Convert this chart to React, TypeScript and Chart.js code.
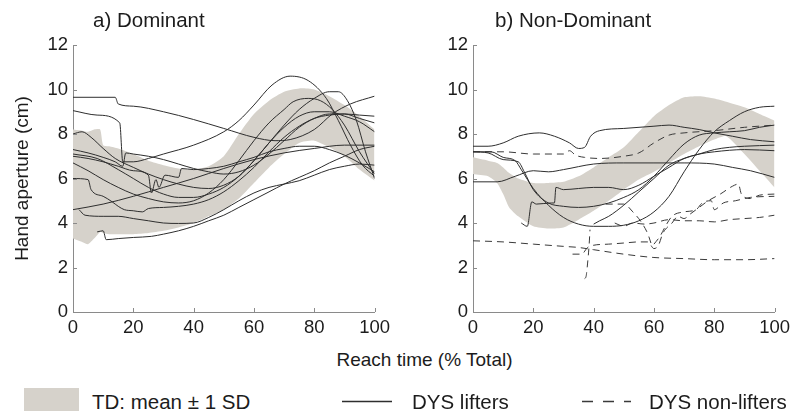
import React, { useEffect, useRef } from "react";
import { Chart, registerables } from "chart.js";

Chart.register(...registerables);

type Pt = [number, number];

// ---- axes ----
const X_MIN = 0;
const X_MAX = 100;
const X_STEP = 20;
const Y_MIN = 0;
const Y_MAX = 12;
const Y_STEP = 2;

const PANEL_TITLES = ["a) Dominant", "b) Non-Dominant"];
const Y_TITLE = "Hand aperture (cm)";
const X_TITLE = "Reach time (% Total)";
const LEGEND_LABELS = ["TD: mean \u00b1 1 SD", "DYS lifters", "DYS non-lifters"];

// ---- a) Dominant : TD band ----
const DOM_BAND_X = [0, 3, 5, 7, 9, 10, 12, 15, 20, 25, 30, 35, 40, 45, 50, 55, 60, 65, 70, 75, 80, 85, 90, 95, 100];
const DOM_BAND_UPPER = [8.2, 8.15, 8.1, 8.2, 8.2, 7.5, 7.45, 7.35, 7.1, 6.8, 6.6, 6.45, 6.4, 6.55, 7.0, 8.0, 8.9, 9.5, 9.9, 10.05, 10.0, 9.7, 9.3, 8.8, 8.2];
const DOM_BAND_LOWER = [3.3, 3.15, 3.05, 3.3, 3.6, 3.55, 3.5, 3.5, 3.5, 3.55, 3.65, 3.8, 4.0, 4.3, 4.6, 5.1, 5.8, 6.5, 7.1, 7.6, 7.7, 7.4, 7.0, 6.4, 5.9];

// ---- a) Dominant : DYS lifters ----
const DOM_L1: Pt[] = [[0, 9.65], [14, 9.65], [15, 9.35], [20, 9.25], [30, 9.0], [40, 8.65], [50, 8.25], [60, 7.85], [67, 7.7], [72, 7.75], [80, 8.2], [86, 8.9], [92, 9.35], [100, 9.7]];
const DOM_L2: Pt[] = [[0, 9.05], [8, 8.85], [15.5, 8.5], [16.5, 6.75], [20, 6.75], [25, 6.9], [30, 7.1], [40, 7.5], [50, 8.1], [55, 8.6], [60, 9.3], [66, 10.2], [72, 10.6], [78, 10.4], [84, 9.6], [88, 8.6], [92, 7.5], [96, 6.6], [100, 6.1]];
const DOM_L3: Pt[] = [[0, 8.0], [3, 8.1], [6, 7.85], [10, 7.35], [14, 6.9], [20, 6.5], [25, 6.2], [30, 5.95], [35, 5.75], [40, 5.6], [45, 5.55], [50, 5.7], [55, 6.1], [60, 6.8], [65, 7.6], [70, 8.4], [75, 9.1], [80, 9.6], [85, 9.9], [88, 9.9], [91, 9.5], [94, 8.6], [97, 7.2], [100, 6.0]];
const DOM_L4: Pt[] = [[0, 7.3], [5, 7.15], [10, 6.95], [14, 6.75], [16.5, 6.55], [17.5, 7.15], [20, 7.1], [25, 7.0], [30, 6.85], [35, 6.65], [40, 6.45], [45, 6.3], [50, 6.2], [55, 6.3], [60, 6.6], [65, 7.1], [70, 7.7], [75, 8.3], [80, 8.7], [85, 8.9], [90, 8.9], [95, 8.7], [100, 8.5]];
const DOM_L5: Pt[] = [[0, 7.0], [5, 6.9], [10, 6.75], [15, 6.55], [20, 6.35], [25, 6.15], [26, 5.35], [27.5, 5.95], [28.5, 5.6], [30.5, 6.15], [35, 6.05], [36, 6.45], [40, 6.4], [45, 6.45], [50, 6.55], [55, 6.75], [60, 6.95], [65, 7.2], [70, 7.35], [75, 7.45], [80, 7.45], [85, 7.3], [90, 7.05], [95, 6.7], [100, 6.3]];
const DOM_L6: Pt[] = [[0, 6.7], [5, 6.35], [10, 5.95], [15, 5.6], [20, 5.3], [25, 5.1], [30, 4.95], [35, 4.9], [40, 5.0], [45, 5.35], [50, 5.95], [55, 6.8], [60, 7.7], [65, 8.5], [70, 9.1], [73, 9.45], [78, 9.6], [82, 9.5], [86, 9.1], [90, 8.4], [95, 7.2], [100, 6.2]];
const DOM_L7: Pt[] = [[0, 6.0], [5, 5.95], [6, 5.5], [10, 5.2], [13, 4.95], [15, 4.75], [17, 4.6], [20, 4.55], [23, 4.5], [25, 4.65], [30, 4.7], [35, 4.75], [40, 4.85], [45, 5.05], [50, 5.4], [55, 5.9], [60, 6.5], [65, 7.2], [70, 7.85], [75, 8.35], [80, 8.7], [85, 8.85], [90, 8.9], [95, 8.85], [100, 8.8]];
const DOM_L8: Pt[] = [[0, 4.6], [10, 4.85], [20, 5.2], [30, 5.6], [40, 6.0], [50, 6.45], [60, 6.85], [70, 7.15], [80, 7.35], [90, 7.5], [100, 7.5]];
const DOM_L9: Pt[] = [[2, 4.6], [4, 4.35], [10, 4.3], [15, 4.3], [20, 4.2], [25, 4.1], [30, 4.0], [35, 3.98], [40, 4.0], [45, 4.25], [50, 4.6], [55, 5.0], [60, 5.35], [65, 5.6], [70, 5.75], [75, 5.9], [80, 6.15], [85, 6.4], [90, 6.55], [95, 6.65], [100, 6.6]];
const DOM_L10: Pt[] = [[8, 3.6], [10, 3.65], [11, 3.25], [15, 3.3], [20, 3.35], [26, 3.4], [30, 3.5], [35, 3.65], [40, 3.85], [45, 4.1], [50, 4.35], [55, 4.7], [60, 5.05], [65, 5.4], [70, 5.75], [75, 6.05], [80, 6.35], [85, 6.7], [90, 7.0], [95, 7.3], [100, 7.45]];
const DOM_L11: Pt[] = [[0, 7.1], [8, 6.9], [15, 6.4], [20, 6.0], [25, 5.6], [30, 5.3], [35, 5.15], [40, 5.15], [45, 5.3], [50, 5.6], [55, 6.1], [60, 6.8], [65, 7.6], [70, 8.3], [75, 8.8], [80, 9.0], [85, 9.0], [90, 8.8], [95, 8.55], [100, 8.1]];

// ---- b) Non-Dominant : TD band ----
const ND_BAND_X = [0, 5, 8, 10, 12, 15, 20, 25, 30, 35, 40, 45, 50, 55, 60, 65, 70, 75, 80, 84, 90, 95, 100];
const ND_BAND_UPPER = [6.95, 6.8, 6.7, 6.5, 6.25, 6.0, 5.8, 5.8, 5.85, 6.1, 6.5, 6.95, 7.4, 8.1, 8.8, 9.3, 9.65, 9.7, 9.6, 9.45, 9.2, 8.9, 8.6];
const ND_BAND_LOWER = [6.2, 6.1, 5.8, 5.3, 4.7, 4.3, 3.85, 3.75, 3.8, 4.15, 4.55, 5.0, 5.5, 5.95, 6.3, 6.7, 7.1, 7.45, 7.75, 7.9, 7.1, 6.35, 5.6];

// ---- b) Non-Dominant : DYS lifters ----
const ND_L1: Pt[] = [[0, 7.45], [5, 7.45], [10, 7.6], [15, 7.9], [22, 8.05], [27, 7.9], [32, 7.6], [35, 7.35], [37, 7.4], [39, 7.9], [42, 8.15], [50, 8.25], [60, 8.35], [65, 8.4], [70, 8.3], [75, 8.2], [80, 8.05], [86, 7.9], [92, 7.75], [100, 7.65]];
const ND_L2: Pt[] = [[0, 7.2], [6, 7.2], [10, 6.95], [14, 6.8], [16, 6.4], [20, 5.55], [25, 4.8], [30, 4.25], [35, 3.95], [40, 3.85], [45, 3.85], [50, 3.9], [55, 4.1], [60, 4.5], [65, 5.2], [70, 6.3], [75, 7.3], [80, 8.1], [85, 8.6], [90, 9.0], [95, 9.2], [100, 9.25]];
const ND_L3: Pt[] = [[0, 7.2], [5, 7.15], [10, 6.85], [15, 6.75], [17, 6.3], [20, 5.5], [25, 4.9], [30, 4.75], [35, 4.7], [40, 4.75], [45, 4.9], [50, 5.15], [55, 5.5], [60, 6.1], [65, 6.85], [70, 7.55], [75, 7.95], [80, 8.05], [85, 8.1], [90, 8.15], [95, 8.3], [100, 8.4]];
const ND_L4: Pt[] = [[0, 5.85], [8, 5.85], [14, 6.1], [20, 6.35], [25, 6.3], [30, 6.4], [40, 6.65], [50, 6.7], [60, 6.7], [70, 6.7], [80, 6.65], [86, 6.5], [92, 6.35], [100, 6.05]];
const ND_L5: Pt[] = [[16, 4.0], [18, 3.85], [19.5, 4.95], [21, 4.85], [26, 4.9], [27, 4.9], [27.5, 5.6], [30, 5.5], [35, 5.55], [40, 5.6], [45, 5.6], [50, 5.5], [55, 5.7], [60, 6.1], [65, 6.5], [70, 6.9], [75, 7.1], [80, 7.3], [85, 7.4], [90, 7.45], [100, 7.5]];
const ND_L6: Pt[] = [[40, 3.95], [42, 4.1], [45, 4.3], [50, 4.8], [55, 5.4], [60, 6.0], [65, 6.6], [70, 6.9], [75, 7.1], [80, 7.2], [90, 7.3], [100, 7.25]];

// ---- b) Non-Dominant : DYS non-lifters ----
const ND_D1: Pt[] = [[0, 7.2], [10, 7.2], [20, 7.1], [30, 7.1], [32, 7.25], [34, 7.05], [37, 6.95], [42, 6.9], [50, 7.0], [55, 7.15], [60, 7.6], [65, 7.95], [70, 8.05], [80, 8.15], [90, 8.3], [100, 8.4]];
const ND_D2: Pt[] = [[0, 3.2], [10, 3.15], [20, 3.05], [30, 2.95], [35, 2.9], [40, 2.8], [50, 2.6], [60, 2.45], [70, 2.4], [80, 2.35], [90, 2.35], [100, 2.4]];
const ND_D3: Pt[] = [[33, 2.6], [36, 2.6], [38, 2.9], [40, 3.0], [45, 3.05], [50, 3.1], [55, 3.15], [58, 3.15], [60, 2.85], [61.5, 3.0], [63, 3.55], [66, 4.0], [68, 4.3], [70, 4.2], [72, 4.4], [75, 4.7], [78, 5.0], [82, 5.3], [86, 5.65], [88, 5.75], [89, 5.3], [92, 5.1], [95, 5.25], [100, 5.3]];
const ND_D4: Pt[] = [[37, 1.5], [37.5, 1.6], [38, 2.2], [38.5, 3.0], [38.8, 3.7]];
const ND_D5: Pt[] = [[44, 4.85], [50, 4.85], [53, 4.5], [56, 4.0], [58, 3.5], [59, 3.1]];
const ND_D6: Pt[] = [[47, 4.0], [50, 3.85], [53, 4.0], [57, 3.95], [60, 4.0], [65, 4.15], [70, 4.1], [75, 4.1], [80, 4.05], [85, 4.15], [90, 4.2], [95, 4.25], [100, 4.35]];
const ND_D7: Pt[] = [[60, 3.05], [62, 3.4], [64, 3.9], [66, 4.3], [70, 4.5], [74, 4.6], [76, 4.9], [79, 5.0], [80, 4.6], [83, 4.9], [87, 5.0], [92, 5.15], [100, 5.2]];

const DOM_LIFTERS = [DOM_L1, DOM_L2, DOM_L3, DOM_L4, DOM_L5, DOM_L6, DOM_L7, DOM_L8, DOM_L9, DOM_L10, DOM_L11];
const ND_LIFTERS = [ND_L1, ND_L2, ND_L3, ND_L4, ND_L5, ND_L6];
const ND_NONLIFTERS = [ND_D1, ND_D2, ND_D3, ND_D4, ND_D5, ND_D6, ND_D7];

// ---- styles ----
const FONT = "'Liberation Sans', Arial, Helvetica, sans-serif";
const BAND_COLOR = "rgb(214, 210, 203)";
const LINE_COLOR = "#2e2e2e";
const DASH_COLOR = "#3a3a3a";
const AXIS_COLOR = "#8a8a8a";
const TEXT_COLOR = "#1c1c1c";
const DASH = [7, 5];

const toXY = (pts: Pt[]) => pts.map(([x, y]) => ({ x, y }));

function lineDataset(pts: Pt[], dashed: boolean) {
  return {
    data: toXY(pts),
    borderColor: dashed ? DASH_COLOR : LINE_COLOR,
    borderWidth: 1,
    borderDash: dashed ? DASH : [],
    pointRadius: 0,
    fill: false,
    cubicInterpolationMode: "monotone",
  };
}

function bandDatasets(xs: number[], upper: number[], lower: number[]) {
  return [
    {
      data: xs.map((x, i) => ({ x, y: upper[i] })),
      borderWidth: 0,
      borderColor: "rgba(0,0,0,0)",
      backgroundColor: BAND_COLOR,
      pointRadius: 0,
      fill: "+1",
      tension: 0.2,
    },
    {
      data: xs.map((x, i) => ({ x, y: lower[i] })),
      borderWidth: 0,
      borderColor: "rgba(0,0,0,0)",
      backgroundColor: BAND_COLOR,
      pointRadius: 0,
      fill: false,
      tension: 0.2,
    },
  ];
}

const innerTicks = {
  id: "innerTicks",
  afterDatasetsDraw(chart: any) {
    const { ctx, chartArea, scales } = chart;
    ctx.save();
    ctx.strokeStyle = AXIS_COLOR;
    ctx.lineWidth = 1;
    scales.x.ticks.forEach((t: any) => {
      const px = Math.round(scales.x.getPixelForValue(t.value)) + 0.5;
      ctx.beginPath();
      ctx.moveTo(px, chartArea.bottom);
      ctx.lineTo(px, chartArea.bottom - 4);
      ctx.stroke();
    });
    scales.y.ticks.forEach((t: any) => {
      const py = Math.round(scales.y.getPixelForValue(t.value)) + 0.5;
      ctx.beginPath();
      ctx.moveTo(chartArea.left, py);
      ctx.lineTo(chartArea.left + 4, py);
      ctx.stroke();
    });
    ctx.restore();
  },
};

const panelTitle = {
  id: "panelTitle",
  afterDraw(chart: any, _args: any, opts: any) {
    const { ctx } = chart;
    ctx.save();
    ctx.font = `20.5px ${FONT}`;
    ctx.fillStyle = TEXT_COLOR;
    ctx.textAlign = "left";
    ctx.textBaseline = "alphabetic";
    ctx.fillText(opts.text, opts.x, opts.y);
    ctx.restore();
  },
};

function makeConfig(datasets: any[], title: string, titleX: number, showYTitle: boolean): any {
  const tickFont = { family: FONT, size: 18.5 };
  return {
    type: "line",
    data: { datasets },
    plugins: [innerTicks, panelTitle],
    options: {
      responsive: false,
      animation: false,
      layout: { padding: { top: 45, right: 18, bottom: 3, left: 0 } },
      plugins: {
        legend: { display: false },
        tooltip: { enabled: false },
        title: { display: false },
        panelTitle: { text: title, x: titleX, y: 27 },
      },
      scales: {
        x: {
          type: "linear",
          min: X_MIN,
          max: X_MAX,
          ticks: { stepSize: X_STEP, color: TEXT_COLOR, font: tickFont, padding: 5, maxRotation: 0 },
          grid: { display: false, drawTicks: false },
          border: { display: true, color: AXIS_COLOR, width: 1 },
          afterFit: (s: any) => {
            s.height = 30;
          },
        },
        y: {
          type: "linear",
          min: Y_MIN,
          max: Y_MAX,
          ticks: { stepSize: Y_STEP, color: TEXT_COLOR, font: tickFont, padding: 5 },
          grid: { display: false, drawTicks: false },
          border: { display: true, color: AXIS_COLOR, width: 1 },
          title: {
            display: showYTitle,
            text: Y_TITLE,
            color: TEXT_COLOR,
            font: { family: FONT, size: 19 },
            padding: { top: 11.5, bottom: 0 },
          },
          afterFit: (s: any) => {
            s.width = 73;
          },
        },
      },
    },
  };
}

function Panel(props: { left: number; datasets: any[]; title: string; titleX: number; showYTitle: boolean }) {
  const ref = useRef<HTMLCanvasElement | null>(null);
  useEffect(() => {
    if (!ref.current) return;
    const chart = new Chart(ref.current, makeConfig(props.datasets, props.title, props.titleX, props.showYTitle));
    return () => chart.destroy();
  }, []);
  return (
    <canvas
      ref={ref}
      width={395}
      height={345}
      style={{ position: "absolute", left: props.left, top: 0, width: 395, height: 345 }}
    />
  );
}

export default function App() {
  const domDatasets = [
    ...DOM_LIFTERS.map((p) => lineDataset(p, false)),
    ...bandDatasets(DOM_BAND_X, DOM_BAND_UPPER, DOM_BAND_LOWER),
  ];
  const ndDatasets = [
    ...ND_LIFTERS.map((p) => lineDataset(p, false)),
    ...ND_NONLIFTERS.map((p) => lineDataset(p, true)),
    ...bandDatasets(ND_BAND_X, ND_BAND_UPPER, ND_BAND_LOWER),
  ];
  const textStyle: React.CSSProperties = {
    position: "absolute",
    fontFamily: FONT,
    color: TEXT_COLOR,
    whiteSpace: "nowrap",
    lineHeight: 1,
  };
  return (
    <div style={{ position: "fixed", left: 0, top: 0, width: 797, height: 420, background: "#fff", overflow: "hidden" }}>
      <Panel left={0} datasets={domDatasets} title={PANEL_TITLES[0]} titleX={93} showYTitle={true} />
      <Panel left={400} datasets={ndDatasets} title={PANEL_TITLES[1]} titleX={95} showYTitle={false} />
      <div style={{ ...textStyle, left: 424.5, top: 350, fontSize: 19, transform: "translateX(-50%)" }}>{X_TITLE}</div>
      <div style={{ position: "absolute", left: 24, top: 388, width: 55, height: 23, background: BAND_COLOR }} />
      <div style={{ ...textStyle, left: 92, top: 391.5, fontSize: 20.5 }}>{LEGEND_LABELS[0]}</div>
      <svg style={{ position: "absolute", left: 0, top: 0 }} width={797} height={420}>
        <line x1={342} y1={401.5} x2={392} y2={401.5} stroke={LINE_COLOR} strokeWidth={1.3} />
        <line x1={582} y1={401.5} x2={631} y2={401.5} stroke={DASH_COLOR} strokeWidth={1.3} strokeDasharray="11 10" />
      </svg>
      <div style={{ ...textStyle, left: 412, top: 391.5, fontSize: 20.5 }}>{LEGEND_LABELS[1]}</div>
      <div style={{ ...textStyle, left: 649, top: 391.5, fontSize: 20.5 }}>{LEGEND_LABELS[2]}</div>
    </div>
  );
}
